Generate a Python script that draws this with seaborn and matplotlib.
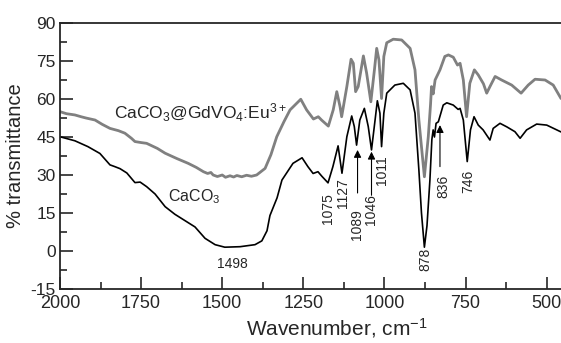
import matplotlib
matplotlib.use('Agg')
import matplotlib.pyplot as plt
from matplotlib.ticker import MultipleLocator
import seaborn as sns
import pandas as pd

# ---- data ----
wn_caco3 = [2000, 1954, 1914, 1877, 1846, 1831, 1815, 1794, 1769, 1753, 1733, 1707,
            1676, 1646, 1615, 1584, 1553, 1522, 1492, 1445, 1399, 1378, 1362, 1353,
            1331, 1316, 1282, 1254, 1236, 1220, 1205, 1193, 1174, 1159, 1143, 1131,
            1116, 1101, 1093, 1086, 1076, 1062, 1050, 1040, 1029, 1022, 1014, 1009,
            1002, 993, 968, 942, 921, 906, 894, 886, 877, 869, 860, 854, 850, 846,
            841, 834, 819, 808, 788, 773, 767, 757, 745, 735, 724, 711, 696, 675,
            665, 644, 623, 598, 582, 562, 531, 500, 469, 456]
t_caco3 = [45.1, 43.5, 41.2, 38.5, 34.0, 33.3, 32.5, 30.8, 27.0, 27.2, 25.4, 22.5,
           17.5, 14.5, 12.0, 9.5, 5.0, 2.5, 1.5, 1.7, 2.5, 4.0, 8.0, 14.0,
           21.0, 28.0, 34.6, 36.8, 33.3, 30.6, 31.3, 29.5, 26.9, 33.3, 41.5, 30.7,
           45.1, 53.3, 49.1, 41.8, 51.7, 56.3, 49.1, 39.9, 51.7, 59.3, 54.4, 41.2,
           54.4, 62.3, 65.5, 66.2, 63.6, 54.4, 32.0, 15.0, 1.5, 10.0, 28.0, 44.0, 47.8, 45.0,
           50.4, 51.0, 57.6, 58.5, 57.6, 55.9, 56.3, 51.7, 35.3, 47.8, 53.0, 49.7, 47.8, 43.8,
           48.4, 50.4, 49.0, 47.1, 44.5, 47.8, 50.1, 49.7, 47.8, 47.0]

wn_gdvo4 = [2000, 1980, 1954, 1935, 1920, 1892, 1870, 1846, 1820, 1800, 1780, 1769,
            1750, 1733, 1700, 1676, 1640, 1605, 1580, 1558, 1545, 1535, 1528, 1515,
            1500, 1490, 1476, 1465, 1455, 1440, 1425, 1410, 1394, 1368, 1350, 1332,
            1310, 1291, 1258, 1240, 1219, 1204, 1194,
            1173, 1158, 1147, 1137, 1132, 1116, 1103, 1096, 1089, 1081, 1065, 1055,
            1042, 1031, 1024, 1017, 1009, 1002, 993, 973, 947, 921, 906, 894, 877,
            865, 858, 855, 850, 844, 829, 814, 803, 788, 775, 767, 757, 747, 737,
            723, 711, 695, 685, 675, 659, 639, 608, 579, 557, 536, 505, 480, 456]
t_gdvo4 = [55.0, 54.2, 53.7, 53.0, 52.5, 51.7, 50.0, 48.4, 47.5, 46.5, 44.5, 43.2,
           42.8, 42.5, 40.5, 38.6, 36.5, 34.6, 33.0, 31.3, 30.6, 31.0, 30.0, 29.4,
           30.0, 29.1, 29.7, 29.2, 29.8, 29.3, 29.9, 29.5, 30.0, 32.6, 38.0, 45.1,
           51.0, 55.7, 59.9, 55.7, 52.1, 53.0, 51.7,
           49.3, 55.7, 62.9, 57.0, 53.0, 64.9, 75.7, 74.1, 62.9, 64.9, 77.0, 70.2,
           58.9, 71.5, 80.0, 75.4, 60.2, 76.8, 82.2, 83.6, 83.3, 80.0, 71.5, 51.7, 29.3,
           45.1, 58.0, 64.9, 62.0, 67.5, 71.5, 76.8, 77.4, 76.5, 73.4, 74.1, 67.5, 53.0, 66.2,
           71.5, 69.5, 66.0, 62.3, 64.9, 68.9, 67.5, 65.5, 62.3, 65.5, 67.8, 67.5, 65.5, 60.2]

peak_labels = ['1498', '1075', '1127', '1089', '1046', '1011', '878', '836', '746']
label_x = [1470, 1175, 1127, 1084, 1043, 1009, 875, 819, 742]
label_y = [-5.1, 16.8, 22.7, 10.3, 16.4, 32.0, -3.3, 25.4, 27.4]
label_rot = [0, 90, 90, 90, 90, 90, 90, 90, 90]

arrow_x = [1083, 1040, 829]
arrow_tip = [39.9, 39.2, 49.7]
arrow_tail = [22.9, 22.0, 33.3]

df1 = pd.DataFrame({'wn': wn_caco3, 't': t_caco3})
df2 = pd.DataFrame({'wn': wn_gdvo4, 't': t_gdvo4})

sns.set_style('ticks')
plt.rcParams['font.family'] = ['Liberation Sans', 'DejaVu Sans']
plt.rcParams['mathtext.default'] = 'regular'
plt.rcParams['axes.unicode_minus'] = False

fig = plt.figure(figsize=(5.61, 3.43), dpi=100)
ax = fig.add_axes([60 / 561, 1 - 289 / 343, 501 / 561, 266 / 343])

sns.lineplot(data=df2, x='wn', y='t', color='#808080', lw=2.0, ax=ax,
             estimator=None, sort=False)
sns.lineplot(data=df1, x='wn', y='t', color='black', lw=1.2, ax=ax,
             estimator=None, sort=False)

ax.set_xlim(2000, 456)
ax.set_ylim(-15, 90)
ax.xaxis.set_major_locator(MultipleLocator(250))
ax.xaxis.set_minor_locator(MultipleLocator(125))
ax.yaxis.set_major_locator(MultipleLocator(15))
ax.yaxis.set_minor_locator(MultipleLocator(7.5))
ax.tick_params(which='both', direction='in', width=1.2, top=False, right=False)
ax.tick_params(which='major', length=9)
ax.tick_params(which='minor', length=5)
ax.tick_params(axis='x', labelsize=13, pad=4)
ax.tick_params(axis='y', labelsize=12.5, pad=3)
for side in ['left', 'bottom', 'top']:
    ax.spines[side].set_linewidth(1.3)
ax.spines['right'].set_visible(False)

ax.set_xlabel('Wavenumber, cm$^{-1}$', fontsize=15)
ax.set_ylabel('% transmittance', fontsize=14.5)
ax.xaxis.set_label_coords(0.553, -0.1)
ax.yaxis.set_label_coords(-0.07, 0.5)

ax.text(1834, 54.5, 'CaCO$_3$@GdVO$_4$:Eu$^{3+}$', fontsize=12.5, va='center', ha='left')
ax.text(1667, 21.4, 'CaCO$_3$', fontsize=11.5, va='center', ha='left')

for lab, x, y, r in zip(peak_labels, label_x, label_y, label_rot):
    ax.text(x, y, lab, fontsize=10, rotation=r, ha='center', va='center')

for x, tip, tail in zip(arrow_x, arrow_tip, arrow_tail):
    ax.annotate('', xy=(x, tip), xytext=(x, tail),
                arrowprops=dict(arrowstyle='-|>', color='black', lw=0.8,
                                mutation_scale=11, shrinkA=0, shrinkB=0))

fig.savefig('out.png', dpi=100)
